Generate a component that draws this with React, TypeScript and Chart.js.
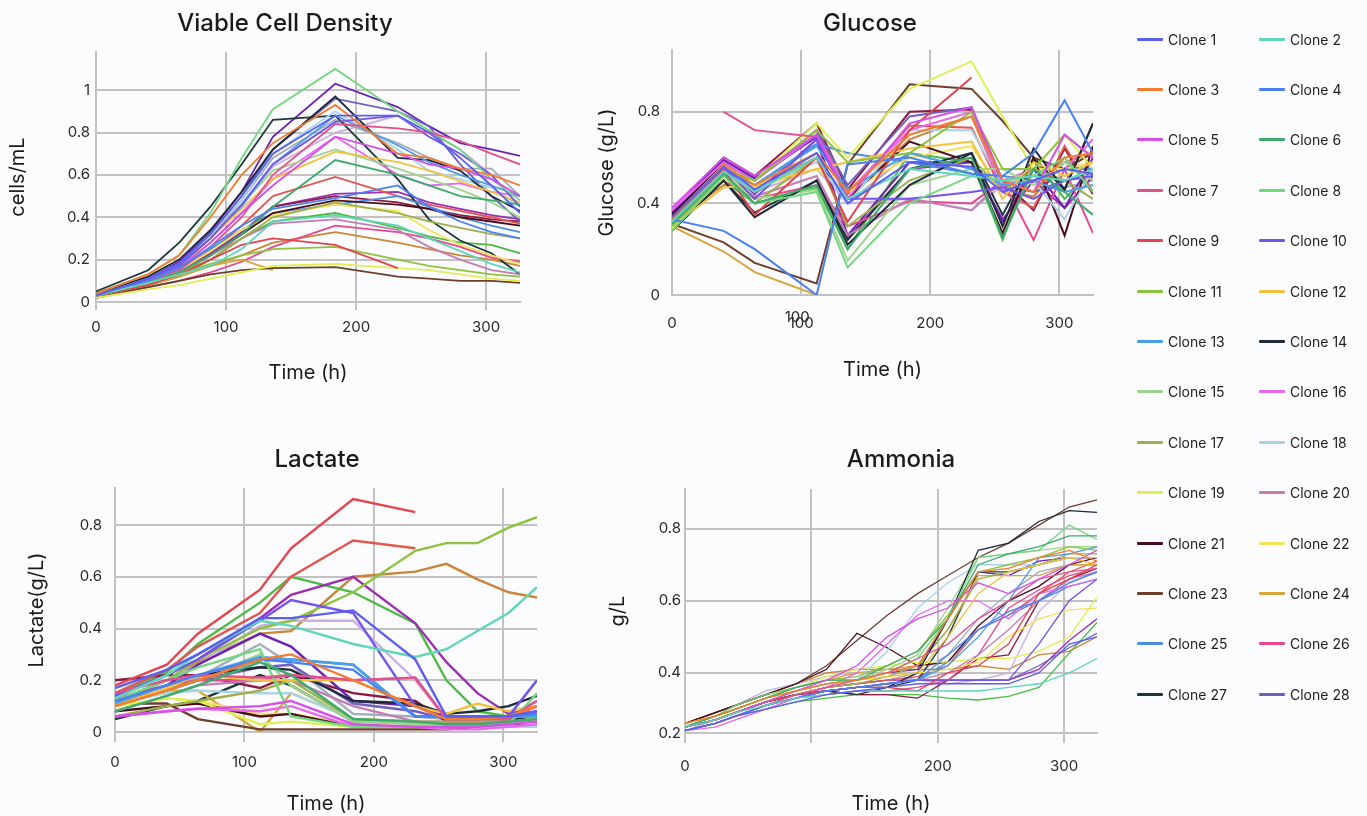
import React, { useEffect, useRef } from 'react';
import { Chart, registerables } from 'chart.js';

Chart.register(...registerables);

const FONT = 'Inter, "Noto Sans", sans-serif';
Chart.defaults.font.family = FONT;

const cloneColors = [
  '#5b5ff0', '#5fd6bb', '#f47b2f', '#4a80f5', '#d54fe8', '#3daa6e', '#e2538c', '#72d97e',
  '#e2454f', '#7255ea', '#8dc43e', '#f2c23f', '#4b9fe6', '#1f2a3a', '#9fd48c', '#e868ec',
  '#9db04b', '#a9d3e6', '#def054', '#c27fb2', '#4a0d1c', '#f6e35a', '#6d402b', '#d9a63b',
  '#4c8fe2', '#e8488f', '#1d3838', '#7060c2', '#6a22b5', '#e0584f', '#8b1a3e', '#9c2fb3',
  '#a3adbb', '#4cbc45', '#c9aee2', '#c98638',
];
const cloneNames = cloneColors.map((_, i) => `Clone ${i + 1}`);
const legendCount = 28;

const xTicks = [0, 100, 200, 300];

// Viable Cell Density
const vcdTimes = [0, 40, 64, 88, 112, 136, 184, 232, 256, 280, 304, 326];
const vcdValues: (number | null)[][] = [
  [0.03, 0.11, 0.18, 0.32, 0.5, 0.7, 0.88, 0.88, 0.8, 0.68, 0.55, 0.42],
  [0.03, 0.09, 0.13, 0.17, 0.25, 0.38, 0.41, 0.36, 0.3, 0.24, 0.18, 0.14],
  [0.04, 0.13, 0.22, 0.4, 0.6, 0.75, 0.93, 0.7, 0.68, 0.63, 0.6, 0.55],
  [0.03, 0.1, 0.16, 0.26, 0.36, 0.44, 0.49, 0.55, 0.45, 0.38, 0.33, 0.3],
  [0.03, 0.1, 0.16, 0.28, 0.42, 0.55, 0.78, 0.7, 0.65, 0.63, 0.58, 0.5],
  [0.03, 0.09, 0.14, 0.22, 0.32, 0.45, 0.67, 0.6, 0.55, 0.5, 0.48, 0.46],
  [0.03, 0.1, 0.15, 0.26, 0.4, 0.6, 0.84, 0.82, 0.8, 0.76, 0.7, 0.65],
  [0.04, 0.13, 0.22, 0.42, 0.68, 0.91, 1.1, 0.9, 0.81, 0.72, 0.58, 0.48],
  [0.03, 0.08, 0.13, 0.2, 0.27, 0.3, 0.27, 0.16, null, null, null, null],
  [0.03, 0.11, 0.17, 0.3, 0.46, 0.65, 0.85, 0.88, 0.78, 0.7, 0.6, 0.45],
  [0.03, 0.09, 0.13, 0.18, 0.22, 0.25, 0.26, 0.2, 0.17, 0.15, 0.13, 0.12],
  [0.03, 0.1, 0.16, 0.3, 0.44, 0.58, 0.71, 0.66, 0.62, 0.57, 0.52, 0.47],
  [0.03, 0.11, 0.18, 0.3, 0.45, 0.65, 0.88, 0.74, 0.66, 0.6, 0.55, 0.5],
  [0.04, 0.12, 0.2, 0.34, 0.52, 0.72, 0.97, 0.68, 0.67, 0.62, 0.5, 0.43],
  [0.03, 0.1, 0.17, 0.3, 0.46, 0.62, 0.72, 0.63, 0.58, 0.53, 0.47, 0.4],
  [0.03, 0.1, 0.16, 0.28, 0.42, 0.58, 0.78, 0.6, 0.55, 0.56, 0.52, 0.5],
  [0.03, 0.09, 0.14, 0.2, 0.3, 0.4, 0.47, 0.42, 0.38, 0.35, 0.32, 0.3],
  [0.03, 0.11, 0.18, 0.32, 0.48, 0.7, 0.9, 0.72, 0.62, 0.58, 0.54, 0.45],
  [0.02, 0.06, 0.08, 0.11, 0.14, 0.17, 0.18, 0.16, 0.15, 0.13, 0.11, 0.1],
  [0.03, 0.09, 0.14, 0.22, 0.3, 0.37, 0.39, 0.34, 0.26, 0.2, 0.15, 0.13],
  [0.03, 0.09, 0.14, 0.22, 0.32, 0.42, 0.48, 0.46, 0.44, 0.4, 0.38, 0.36],
  [0.03, 0.09, 0.15, 0.24, 0.34, 0.41, 0.46, 0.43, 0.34, 0.27, 0.22, 0.18],
  [0.02, 0.07, 0.1, 0.13, 0.15, 0.16, 0.165, 0.12, 0.11, 0.1, 0.1, 0.09],
  [0.03, 0.08, 0.12, 0.17, 0.2, 0.15, null, null, null, null, null, null],
  [0.03, 0.1, 0.16, 0.25, 0.34, 0.42, 0.46, 0.5, 0.45, 0.4, 0.36, 0.33],
  [0.02, 0.07, 0.1, 0.14, 0.19, 0.26, 0.36, 0.33, 0.3, 0.26, 0.21, 0.19],
  [0.05, 0.15, 0.28, 0.45, 0.65, 0.86, 0.88, 0.58, 0.39, 0.29, 0.23, 0.13],
  [0.03, 0.11, 0.18, 0.32, 0.5, 0.72, 0.96, 0.9, 0.83, 0.65, 0.5, 0.38],
  [0.03, 0.11, 0.19, 0.33, 0.52, 0.78, 1.03, 0.92, 0.83, 0.75, 0.72, 0.69],
  [0.03, 0.1, 0.15, 0.24, 0.36, 0.5, 0.59, 0.5, 0.46, 0.43, 0.4, 0.37],
  [0.03, 0.09, 0.14, 0.22, 0.32, 0.45, 0.5, 0.47, 0.44, 0.41, 0.39, 0.38],
  [0.03, 0.09, 0.14, 0.23, 0.33, 0.45, 0.51, 0.52, 0.47, 0.44, 0.41, 0.39],
  [0.03, 0.1, 0.17, 0.3, 0.48, 0.68, 0.86, 0.75, 0.68, 0.63, 0.63, 0.5],
  [0.03, 0.08, 0.12, 0.2, 0.3, 0.38, 0.42, 0.35, 0.31, 0.28, 0.27, 0.23],
  [0.03, 0.1, 0.17, 0.3, 0.46, 0.64, 0.8, 0.88, 0.8, 0.72, 0.6, 0.45],
  [0.03, 0.08, 0.12, 0.17, 0.22, 0.28, 0.33, 0.28, 0.25, 0.22, 0.2, 0.17],
];

// Glucose
const glucoseTimes = [0, 40, 64, 112, 136, 184, 232, 256, 280, 304, 326];
const glucoseValues: (number | null)[][] = [
  [0.34, 0.56, 0.46, 0.62, 0.4, 0.58, 0.56, 0.45, 0.5, 0.55, 0.53],
  [0.32, 0.54, 0.45, 0.6, 0.42, 0.55, 0.52, 0.5, 0.52, 0.5, 0.55],
  [0.33, 0.57, 0.48, 0.62, 0.45, 0.7, 0.78, 0.5, 0.45, 0.6, 0.62],
  [0.33, 0.28, 0.2, 0.0, 0.57, 0.6, 0.53, 0.52, 0.62, 0.85, 0.62],
  [0.38, 0.6, 0.52, 0.7, 0.42, 0.75, 0.82, 0.5, 0.45, 0.7, 0.6],
  [0.31, 0.53, 0.4, 0.48, 0.2, 0.55, 0.6, 0.25, 0.55, 0.45, 0.35],
  [null, 0.8, 0.72, 0.69, null, null, null, null, null, null, null],
  [0.28, 0.52, 0.4, 0.45, 0.12, 0.4, 0.52, 0.5, 0.52, 0.6, 0.45],
  [0.32, 0.55, 0.35, 0.6, 0.32, 0.72, 0.95, null, null, null, null],
  [0.34, 0.56, 0.42, 0.68, 0.42, 0.42, 0.45, 0.47, 0.42, 0.5, 0.52],
  [0.3, 0.55, 0.5, 0.72, 0.58, 0.62, 0.8, 0.55, 0.55, 0.7, 0.6],
  [0.3, 0.47, 0.48, 0.55, 0.58, 0.64, 0.67, 0.42, 0.58, 0.52, 0.58],
  [0.33, 0.54, 0.48, 0.65, 0.46, 0.62, 0.55, 0.48, 0.5, 0.45, 0.48],
  [0.28, 0.5, 0.34, 0.5, 0.22, 0.48, 0.62, 0.3, 0.64, 0.46, 0.75],
  [0.31, 0.53, 0.42, 0.46, 0.15, 0.48, 0.55, 0.55, 0.48, 0.58, 0.5],
  [0.37, 0.58, 0.5, 0.7, 0.45, 0.72, 0.8, 0.45, 0.5, 0.55, 0.68],
  [0.3, 0.52, 0.4, 0.6, 0.3, 0.5, 0.6, 0.45, 0.55, 0.5, 0.42],
  [0.32, 0.55, 0.46, 0.58, 0.4, 0.72, 0.72, 0.48, 0.5, 0.33, 0.55],
  [0.29, 0.55, 0.5, 0.75, 0.6, 0.9, 1.02, 0.78, 0.55, 0.7, 0.55],
  [0.33, 0.52, 0.43, 0.52, 0.26, 0.42, 0.37, 0.5, 0.55, 0.5, 0.52],
  [0.35, 0.58, 0.5, 0.7, 0.42, 0.67, 0.58, 0.27, 0.6, 0.26, 0.65],
  [0.3, 0.5, 0.47, 0.55, 0.45, 0.6, 0.65, 0.45, 0.55, 0.55, 0.58],
  [0.31, 0.23, 0.14, 0.05, 0.57, 0.92, 0.9, 0.76, 0.6, 0.55, 0.62],
  [0.3, 0.19, 0.1, 0.0, null, null, null, null, null, null, null],
  [0.33, 0.55, 0.48, 0.66, 0.62, 0.58, 0.53, 0.52, 0.5, 0.55, 0.55],
  [0.3, 0.5, 0.42, 0.48, 0.3, 0.41, 0.4, 0.5, 0.24, 0.55, 0.27],
  [0.3, 0.5, 0.36, 0.5, 0.24, 0.55, 0.62, 0.35, 0.6, 0.46, 0.75],
  [0.35, 0.58, 0.5, 0.72, 0.48, 0.78, 0.82, 0.48, 0.45, 0.5, 0.53],
  [0.36, 0.59, 0.51, 0.69, 0.26, 0.58, 0.58, 0.32, 0.55, 0.38, 0.6],
  [0.35, 0.58, 0.5, 0.72, 0.44, 0.74, 0.73, 0.45, 0.38, 0.65, 0.45],
  [0.36, 0.6, 0.52, 0.75, 0.46, 0.8, 0.81, 0.5, 0.37, 0.64, 0.44],
  [0.34, 0.56, 0.44, 0.68, 0.25, 0.55, 0.58, 0.33, 0.5, 0.38, 0.52],
  [0.32, 0.55, 0.45, 0.6, 0.4, 0.62, 0.55, 0.48, 0.52, 0.47, 0.5],
  [0.3, 0.5, 0.4, 0.47, 0.2, 0.62, 0.58, 0.24, 0.6, 0.42, 0.55],
  [0.33, 0.53, 0.45, 0.55, 0.4, 0.42, 0.37, 0.48, 0.55, 0.58, 0.55],
  [0.32, 0.48, 0.47, 0.6, 0.42, 0.68, 0.78, 0.46, 0.43, 0.58, 0.62],
];

// Lactate
const lactateTimes = [0, 40, 64, 112, 136, 184, 232, 256, 280, 304, 326];
const lactateValues: (number | null)[][] = [
  [0.17, 0.24, 0.3, 0.44, 0.44, 0.47, 0.28, 0.06, 0.06, 0.06, 0.08],
  [0.13, 0.22, 0.3, 0.43, 0.41, 0.34, 0.29, 0.32, 0.39, 0.46, 0.56],
  [0.1, 0.16, 0.2, 0.28, 0.3, 0.2, 0.1, 0.05, 0.05, 0.06, 0.1],
  [0.12, 0.18, 0.22, 0.28, 0.27, 0.24, 0.06, 0.06, 0.06, 0.06, 0.07],
  [0.06, 0.08, 0.09, 0.1, 0.12, 0.03, 0.02, 0.02, 0.02, 0.03, 0.04],
  [0.08, 0.14, 0.18, 0.27, 0.22, 0.05, 0.04, 0.03, 0.03, 0.04, 0.05],
  [0.15, 0.2, 0.22, 0.21, 0.22, 0.2, 0.21, 0.05, 0.05, 0.05, 0.12],
  [0.12, 0.2, 0.25, 0.32, 0.06, 0.02, 0.02, 0.02, 0.02, 0.03, 0.15],
  [0.18, 0.26, 0.38, 0.55, 0.71, 0.9, 0.85, null, null, null, null],
  [0.14, 0.22, 0.28, 0.43, 0.51, 0.46, 0.1, 0.05, 0.05, 0.06, 0.2],
  [0.12, 0.2, 0.28, 0.4, 0.43, 0.54, 0.7, 0.73, 0.73, 0.79, 0.83],
  [0.1, 0.17, 0.22, 0.2, 0.2, 0.2, 0.1, 0.07, 0.11, 0.08, 0.1],
  [0.11, 0.18, 0.22, 0.29, 0.28, 0.26, 0.06, 0.06, 0.06, 0.06, 0.06],
  [0.12, 0.18, 0.22, 0.25, 0.24, 0.12, 0.11, 0.07, 0.08, 0.1, 0.14],
  [0.1, 0.16, 0.2, 0.3, 0.18, 0.04, 0.03, 0.03, 0.03, 0.03, 0.06],
  [0.06, 0.08, 0.09, 0.08, 0.1, 0.02, 0.02, 0.01, 0.01, 0.02, 0.03],
  [0.06, 0.1, 0.12, 0.16, 0.2, 0.05, 0.04, 0.04, 0.04, 0.04, 0.05],
  [0.11, 0.15, 0.16, 0.15, 0.15, 0.05, 0.03, 0.03, 0.02, 0.02, 0.02],
  [0.1, 0.13, 0.12, 0.03, 0.04, 0.02, 0.02, 0.02, 0.02, 0.02, 0.03],
  [0.08, 0.14, 0.18, 0.2, 0.2, 0.1, 0.04, 0.04, 0.04, 0.05, 0.08],
  [0.08, 0.1, 0.11, 0.06, 0.07, 0.02, 0.02, 0.02, 0.02, 0.03, 0.02],
  [0.1, 0.13, 0.12, 0.07, 0.07, 0.03, 0.02, 0.02, 0.02, 0.03, 0.05],
  [0.11, 0.11, 0.05, 0.01, 0.01, 0.01, 0.01, 0.01, 0.02, 0.02, 0.02],
  [0.12, 0.16, 0.16, 0.0, 0.15, 0.05, 0.04, 0.03, 0.03, 0.04, 0.05],
  [0.1, 0.16, 0.2, 0.28, 0.28, 0.26, 0.06, 0.06, 0.06, 0.06, 0.07],
  [0.13, 0.18, 0.2, 0.2, 0.22, 0.2, 0.21, 0.05, 0.04, 0.05, 0.1],
  [0.05, 0.1, 0.12, 0.22, 0.18, 0.04, 0.04, 0.03, 0.04, 0.05, 0.05],
  [0.1, 0.16, 0.2, 0.25, 0.26, 0.11, 0.08, 0.05, 0.05, 0.06, 0.12],
  [0.12, 0.18, 0.26, 0.38, 0.33, 0.12, 0.1, 0.06, 0.06, 0.06, 0.08],
  [0.15, 0.24, 0.33, 0.46, 0.6, 0.74, 0.71, null, null, null, null],
  [0.2, 0.22, 0.22, 0.17, 0.22, 0.15, 0.12, 0.04, 0.03, 0.04, 0.04],
  [0.14, 0.22, 0.28, 0.44, 0.53, 0.6, 0.42, 0.27, 0.15, 0.07, 0.1],
  [0.1, 0.16, 0.21, 0.34, 0.26, 0.07, 0.06, 0.05, 0.05, 0.06, 0.06],
  [0.15, 0.23, 0.34, 0.5, 0.6, 0.54, 0.42, 0.2, 0.08, 0.06, 0.06],
  [0.1, 0.2, 0.26, 0.41, 0.43, 0.43, 0.2, 0.05, 0.05, 0.06, 0.2],
  [0.12, 0.2, 0.27, 0.38, 0.39, 0.6, 0.62, 0.65, 0.59, 0.54, 0.52],
];

// Ammonia
const ammoniaTimes = [0, 24, 40, 64, 88, 112, 136, 160, 184, 208, 232, 256, 280, 304, 326];
const ammoniaValues: (number | null)[][] = [
  [0.24, 0.26, 0.28, 0.3, 0.32, 0.34, 0.35, 0.36, 0.37, 0.37, 0.37, 0.37, 0.4, 0.48, 0.5],
  [0.25, 0.27, 0.29, 0.31, 0.33, 0.34, 0.35, 0.35, 0.35, 0.35, 0.35, 0.36, 0.37, 0.4, 0.44],
  [0.26, 0.28, 0.3, 0.33, 0.35, 0.37, 0.38, 0.4, 0.42, 0.55, 0.68, 0.69, 0.72, 0.74, 0.71],
  [0.24, 0.26, 0.28, 0.31, 0.33, 0.35, 0.36, 0.37, 0.38, 0.45, 0.52, 0.57, 0.6, 0.65, 0.68],
  [0.25, 0.27, 0.29, 0.32, 0.35, 0.38, 0.42, 0.5, 0.55, 0.58, 0.65, 0.62, 0.66, 0.7, 0.74],
  [0.25, 0.28, 0.3, 0.33, 0.36, 0.38, 0.38, 0.42, 0.46, 0.55, 0.7, 0.73, 0.75, 0.78, 0.78],
  [0.24, 0.26, 0.28, 0.31, 0.34, 0.36, 0.38, 0.4, 0.44, 0.48, 0.55, 0.6, 0.66, 0.68, 0.69],
  [0.25, 0.28, 0.31, 0.34, 0.36, 0.38, 0.38, 0.4, 0.44, 0.55, 0.72, 0.73, 0.74, 0.81, 0.77],
  [0.25, 0.27, 0.29, 0.32, 0.34, 0.35, 0.36, 0.36, 0.35, 0.4, 0.42, 0.48, 0.62, 0.66, 0.7],
  [0.24, 0.26, 0.28, 0.31, 0.33, 0.35, 0.36, 0.37, 0.38, 0.38, 0.38, 0.38, 0.48, 0.6, 0.66],
  [0.25, 0.28, 0.3, 0.33, 0.36, 0.38, 0.39, 0.42, 0.46, 0.56, 0.68, 0.7, 0.72, 0.75, 0.74],
  [0.26, 0.28, 0.3, 0.33, 0.35, 0.37, 0.38, 0.39, 0.4, 0.5, 0.62, 0.68, 0.7, 0.72, 0.7],
  [0.24, 0.26, 0.28, 0.31, 0.33, 0.35, 0.36, 0.37, 0.38, 0.42, 0.5, 0.6, 0.72, 0.73, 0.75],
  [0.25, 0.27, 0.29, 0.32, 0.34, 0.35, 0.36, 0.36, 0.4, 0.55, 0.74, 0.76, 0.82, 0.85, 0.845],
  [0.25, 0.27, 0.29, 0.32, 0.35, 0.37, 0.38, 0.41, 0.45, 0.58, 0.72, 0.73, 0.74, 0.75, 0.75],
  [0.24, 0.25, 0.27, 0.3, 0.33, 0.36, 0.4, 0.48, 0.56, 0.6, 0.6, 0.55, 0.62, 0.64, 0.66],
  [0.25, 0.27, 0.29, 0.32, 0.34, 0.36, 0.37, 0.39, 0.42, 0.52, 0.66, 0.68, 0.7, 0.73, 0.73],
  [0.24, 0.26, 0.28, 0.31, 0.34, 0.36, 0.38, 0.46, 0.58, 0.65, 0.7, 0.7, 0.7, 0.72, 0.72],
  [0.25, 0.27, 0.3, 0.33, 0.36, 0.39, 0.41, 0.42, 0.43, 0.43, 0.44, 0.44, 0.46, 0.5, 0.61],
  [0.24, 0.26, 0.28, 0.31, 0.34, 0.35, 0.36, 0.37, 0.38, 0.4, 0.45, 0.52, 0.6, 0.66, 0.68],
  [0.26, 0.29, 0.31, 0.34, 0.37, 0.41, 0.51, 0.47, 0.42, 0.43, 0.53, 0.6, 0.64, 0.7, 0.72],
  [0.25, 0.27, 0.29, 0.32, 0.35, 0.37, 0.38, 0.39, 0.4, 0.41, 0.43, 0.5, 0.55, 0.575, 0.58],
  [0.26, 0.29, 0.31, 0.34, 0.37, 0.42, 0.49, 0.56, 0.62, 0.67, 0.72, 0.76, 0.81, 0.86, 0.88],
  [0.26, 0.29, 0.31, 0.34, 0.36, 0.38, 0.4, 0.41, 0.42, 0.52, 0.67, 0.67, 0.67, 0.7, 0.7],
  [0.24, 0.26, 0.28, 0.31, 0.33, 0.35, 0.36, 0.37, 0.38, 0.43, 0.52, 0.56, 0.6, 0.64, 0.66],
  [0.24, 0.26, 0.28, 0.31, 0.33, 0.34, 0.35, 0.35, 0.36, 0.38, 0.45, 0.58, 0.63, 0.67, 0.69],
  [0.25, 0.27, 0.29, 0.32, 0.34, 0.35, 0.34, 0.36, 0.38, 0.5, 0.68, 0.68, 0.7, 0.72, 0.72],
  [0.24, 0.26, 0.28, 0.31, 0.33, 0.35, 0.36, 0.37, 0.38, 0.38, 0.38, 0.38, 0.42, 0.47, 0.51],
  [0.25, 0.27, 0.29, 0.32, 0.35, 0.37, 0.38, 0.4, 0.41, 0.55, 0.68, 0.67, 0.71, 0.72, 0.72],
  [0.25, 0.27, 0.29, 0.32, 0.34, 0.36, 0.37, 0.38, 0.39, 0.42, 0.52, 0.56, 0.62, 0.68, 0.71],
  [0.25, 0.27, 0.29, 0.32, 0.34, 0.35, 0.34, 0.34, 0.33, 0.38, 0.44, 0.45, 0.6, 0.66, 0.69],
  [0.25, 0.27, 0.29, 0.32, 0.34, 0.36, 0.37, 0.38, 0.38, 0.38, 0.38, 0.38, 0.41, 0.49, 0.55],
  [0.24, 0.27, 0.29, 0.32, 0.34, 0.36, 0.37, 0.38, 0.4, 0.45, 0.55, 0.62, 0.68, 0.7, 0.7],
  [0.24, 0.26, 0.28, 0.3, 0.32, 0.33, 0.34, 0.34, 0.34, 0.33, 0.325, 0.335, 0.36, 0.455, 0.54],
  [0.25, 0.28, 0.31, 0.35, 0.37, 0.39, 0.4, 0.4, 0.38, 0.37, 0.38, 0.4, 0.57, 0.65, 0.68],
  [0.26, 0.29, 0.31, 0.34, 0.37, 0.4, 0.41, 0.41, 0.41, 0.41, 0.42, 0.41, 0.45, 0.46, 0.5],
];

const GRID = '#c2c2c2';
const TICK_COLOR = '#2a2a2a';
const TITLE_COLOR = '#1b1b1b';

type PanelSpec = {
  title: string;
  yTitle: string;
  times: number[];
  values: (number | null)[][];
  left: number; top: number; width: number; height: number;
  padRight: number; padTop: number;
  titleX: number; titleY: number;
  yWidth: number; yTitlePad: number; yTickPad: number;
  xHeight: number; xTickLen: number; xTickPad: number; xTitlePad: number;
  yMin: number; yMax: number; yStep?: number; yTickValues?: number[];
  lineWidth: number;
  hide100?: boolean;
  dup100?: boolean;
};

const panels: PanelSpec[] = [
  {
    title: 'Viable Cell Density', yTitle: 'cells/mL', times: vcdTimes, values: vcdValues,
    left: 0, top: 0, width: 570, height: 400, padRight: 50, padTop: 52,
    titleX: 285, titleY: 24,
    yWidth: 96, yTitlePad: 6, yTickPad: 6,
    xHeight: 98, xTickLen: 8, xTickPad: 8, xTitlePad: 15,
    yMin: 0, yMax: 1.18, yStep: 0.2, lineWidth: 1.8,
  },
  {
    title: 'Glucose', yTitle: 'Glucose (g/L)', times: glucoseTimes, values: glucoseValues,
    left: 590, top: 0, width: 560, height: 400, padRight: 57, padTop: 50,
    titleX: 280, titleY: 24,
    yWidth: 82, yTitlePad: 5, yTickPad: 12,
    xHeight: 105, xTickLen: 0, xTickPad: 19, xTitlePad: 18,
    yMin: 0, yMax: 1.07, yStep: 0.4, lineWidth: 2, dup100: true,
  },
  {
    title: 'Lactate', yTitle: 'Lactate(g/L)', times: lactateTimes, values: lactateValues,
    left: 0, top: 420, width: 634, height: 396, padRight: 97, padTop: 68,
    titleX: 317, titleY: 40,
    yWidth: 115, yTitlePad: 25, yTickPad: 13,
    xHeight: 84, xTickLen: 10, xTickPad: 11, xTitlePad: 0,
    yMin: 0, yMax: 0.943, yStep: 0.2, lineWidth: 2.4,
  },
  {
    title: 'Ammonia', yTitle: 'g/L', times: ammoniaTimes, values: ammoniaValues,
    left: 600, top: 420, width: 602, height: 396, padRight: 105, padTop: 69,
    titleX: 301, titleY: 40,
    yWidth: 85, yTitlePad: 6, yTickPad: 4,
    xHeight: 83, xTickLen: 10, xTickPad: 14, xTitlePad: 0,
    yMin: 0.2335, yMax: 0.91, yTickValues: [0.2335, 0.4, 0.6, 0.8], lineWidth: 1.3, hide100: true,
  },
];

function Panel({ spec }: { spec: PanelSpec }) {
  const ref = useRef<HTMLCanvasElement>(null);
  useEffect(() => {
    if (!ref.current) return;
    const datasets = spec.values.map((vals, i) => ({
      label: cloneNames[i],
      data: spec.times.map((t, j) => ({ x: t, y: vals[j] })),
      borderColor: cloneColors[i],
      backgroundColor: cloneColors[i],
      borderWidth: spec.lineWidth,
      pointRadius: 0,
      tension: 0,
      fill: false,
      spanGaps: false,
    }));
    const extrasPlugin = {
      id: 'panelExtras',
      afterDraw(chart: any) {
        const ctx = chart.ctx;
        ctx.save();
        ctx.font = `500 24px ${FONT}`;
        ctx.fillStyle = TITLE_COLOR;
        ctx.textAlign = 'center';
        ctx.textBaseline = 'middle';
        ctx.fillText(spec.title, spec.titleX, spec.titleY);
        if (spec.dup100) {
          const sx = chart.scales.x;
          ctx.font = `15px ${FONT}`;
          ctx.fillStyle = TICK_COLOR;
          ctx.fillText('100', sx.getPixelForValue(100) - 4, sx.top + spec.xTickPad + 9 - 6);
        }
        ctx.restore();
      },
    };
    const chart = new Chart(ref.current, {
      type: 'line',
      data: { datasets: datasets as any },
      plugins: [extrasPlugin],
      options: {
        animation: false,
        responsive: false,
        maintainAspectRatio: false,
        layout: { padding: { left: 0, right: spec.padRight, top: spec.padTop, bottom: 0 } },
        plugins: {
          legend: { display: false },
          tooltip: { enabled: false },
          title: { display: false },
        },
        scales: {
          x: {
            type: 'linear',
            min: 0,
            max: 326,
            afterFit: (s: any) => { s.height = spec.xHeight; },
            afterBuildTicks: (s: any) => { s.ticks = xTicks.map((v) => ({ value: v })); },
            ticks: {
              color: TICK_COLOR,
              font: { family: FONT, size: 15, lineHeight: 1.2 },
              padding: spec.xTickPad,
              maxRotation: 0,
              autoSkip: false,
              callback: (v: any) => (spec.hide100 && Number(v) === 100 ? '' : String(v)),
            },
            grid: {
              color: GRID,
              lineWidth: 2,
              drawTicks: spec.xTickLen > 0,
              tickLength: spec.xTickLen,
              tickColor: GRID,
            },
            border: { color: GRID, width: 2 },
            title: {
              display: true,
              text: 'Time (h)',
              color: TITLE_COLOR,
              font: { family: FONT, size: 20, lineHeight: 1.2 },
              padding: { top: 0, bottom: spec.xTitlePad },
            },
          },
          y: {
            type: 'linear',
            min: spec.yMin,
            max: spec.yMax,
            afterFit: (s: any) => { s.width = spec.yWidth; },
            afterBuildTicks: (s: any) => {
              if (spec.yTickValues) {
                s.ticks = spec.yTickValues.map((v) => ({ value: v }));
              } else {
                const arr: { value: number }[] = [];
                const step = spec.yStep || 0.2;
                for (let k = 0; k * step <= spec.yMax + 1e-9; k++) {
                  arr.push({ value: Math.round(k * step * 100) / 100 });
                }
                s.ticks = arr;
              }
            },
            ticks: {
              color: TICK_COLOR,
              font: { family: FONT, size: 15, lineHeight: 1.2 },
              padding: spec.yTickPad,
              callback: (v: any) => {
                const n = Number(v);
                if (spec.yTickValues && n < 0.3) return '0.2';
                return String(Math.round(n * 100) / 100);
              },
            },
            grid: { color: GRID, lineWidth: 2, drawTicks: false },
            border: { color: GRID, width: 2 },
            title: {
              display: true,
              text: spec.yTitle,
              color: TITLE_COLOR,
              font: { family: FONT, size: 20, lineHeight: 1.2 },
              padding: { top: spec.yTitlePad, bottom: 0 },
            },
          },
        },
      } as any,
    });
    return () => chart.destroy();
  }, []);
  return (
    <canvas
      ref={ref}
      width={spec.width}
      height={spec.height}
      style={{ position: 'absolute', left: spec.left, top: spec.top, width: spec.width, height: spec.height }}
    />
  );
}

function Legend() {
  const items = cloneNames.slice(0, legendCount);
  return (
    <>
      {items.map((name, i) => {
        const col = i % 2;
        const row = Math.floor(i / 2);
        const x = col === 0 ? 1137 : 1259;
        const y = 39 + row * 50.4;
        return (
          <div key={name} style={{ position: 'absolute', left: x, top: y - 10, height: 20, display: 'flex', alignItems: 'center', zIndex: 2 }}>
            <div style={{ width: 26, height: 3, background: cloneColors[i], borderRadius: 1 }} />
            <span style={{ marginLeft: 5, fontFamily: FONT, fontSize: 14, color: '#222', whiteSpace: 'nowrap' }}>{name}</span>
          </div>
        );
      })}
    </>
  );
}

export default function App() {
  return (
    <div style={{ position: 'fixed', left: 0, top: 0, width: 1367, height: 816, background: '#fcfbfe', overflow: 'hidden' }}>
      {panels.map((p) => (
        <Panel key={p.title} spec={p} />
      ))}
      <Legend />
    </div>
  );
}
